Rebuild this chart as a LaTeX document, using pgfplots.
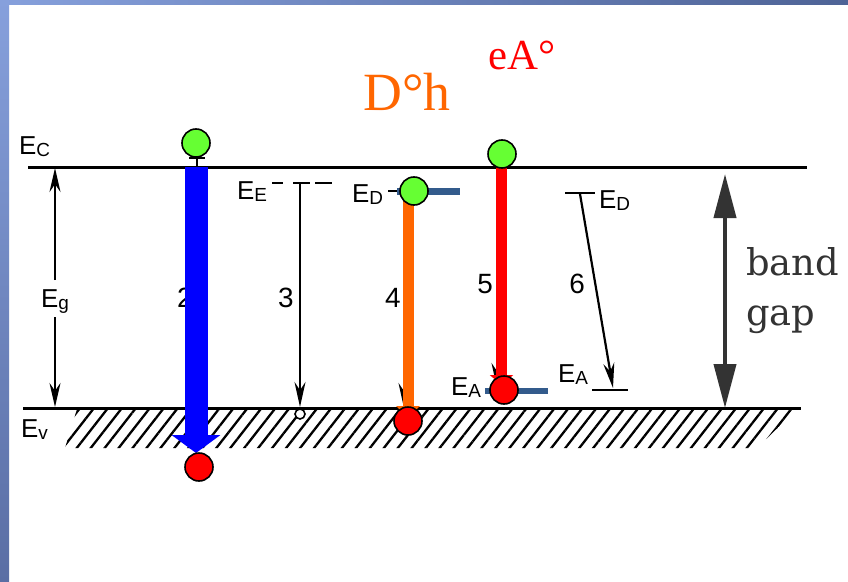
\documentclass[border=0pt]{standalone}
\usepackage{pgfplots}
\pgfplotsset{compat=1.18}
\usepackage{fontspec}
\setmainfont{Liberation Sans}
\newfontfamily\timesf{Liberation Serif}
\newfontfamily\bookf{DejaVu Serif}
\usetikzlibrary{arrows.meta,patterns.meta}
\definecolor{cgreen}{HTML}{66FF33}
\definecolor{corange}{HTML}{FF6600}
\definecolor{cred}{HTML}{FF0000}
\definecolor{cblue}{HTML}{0000FF}
\definecolor{csteel}{HTML}{335B8C}
\definecolor{cgap}{HTML}{333333}
\definecolor{frA}{HTML}{86A0DC}
\definecolor{frB}{HTML}{4E6396}
\definecolor{frC}{HTML}{5A6EA4}
\newcommand{\lev}[2]{{\fontsize{26}{26}\selectfont E}{\fontsize{19}{19}\selectfont\raisebox{-2bp}{#2}}}
\newcommand{\num}[1]{{\fontsize{28}{28}\selectfont #1}}
\begin{document}
\begin{tikzpicture}
\begin{axis}[scale only axis, width=848bp, height=582bp,
  xmin=0, xmax=848, ymin=0, ymax=582, y dir=reverse,
  hide axis, clip=false]
% background and frame
\fill[white] (axis cs:0,0) rectangle (axis cs:848,582);
\fill[left color=frA, right color=frB] (axis cs:0,0) rectangle (axis cs:848,5);
\fill[top color=frA, bottom color=frC] (axis cs:0,0) rectangle (axis cs:9,582);
% hatching below E_V
\addplot[draw=none, pattern={Lines[angle=52,distance=11bp,line width=2.3bp]}, pattern color=black]
  coordinates {(65,448) (757,448) (797,409) (77,409)} -- cycle;
% band edges
\addplot[black, line width=3bp] coordinates {(28,167) (807,167)};
\addplot[black, line width=3bp] coordinates {(23,408) (801,408)};
% E_g arrows
\addplot[black, line width=2.2bp, -{Stealth[length=24bp,width=11bp]}] coordinates {(55,280) (55,168)};
\addplot[black, line width=2.2bp, -{Stealth[length=24bp,width=11bp]}] coordinates {(55,317) (55,407)};
% labels
\node[anchor=base west, inner sep=0] at (axis cs:19,154) {\lev{E}{C}};
\node[anchor=base west, inner sep=0] at (axis cs:41,307) {\lev{E}{g}};
\node[anchor=base west, inner sep=0] at (axis cs:21,437) {\lev{E}{v}};
\node[anchor=base west, inner sep=0] at (axis cs:237,199) {\lev{E}{E}};
\node[anchor=base west, inner sep=0] at (axis cs:352,202) {\lev{E}{D}};
\node[anchor=base west, inner sep=0] at (axis cs:451,395) {\lev{E}{A}};
\node[anchor=base west, inner sep=0] at (axis cs:599,208) {\lev{E}{D}};
\node[anchor=base west, inner sep=0] at (axis cs:558,382) {\lev{E}{A}};
% numbers
\node[anchor=base, inner sep=0] at (axis cs:185,307) {\num{2}};
\node[anchor=base, inner sep=0] at (axis cs:286,307) {\num{3}};
\node[anchor=base, inner sep=0] at (axis cs:393,307) {\num{4}};
\node[anchor=base, inner sep=0] at (axis cs:485,293) {\num{5}};
\node[anchor=base, inner sep=0] at (axis cs:577,293) {\num{6}};
% transition 3 (E_E level, dashed)
\addplot[black, line width=2.2bp] coordinates {(272,183) (283,183)};
\addplot[black, line width=2.2bp] coordinates {(293,183) (310,183)};
\addplot[black, line width=2.2bp] coordinates {(315,183) (332,183)};
\addplot[black, line width=2.2bp, -{Stealth[length=25bp,width=11bp]}] coordinates {(300,183) (300,407)};
\addplot[only marks, mark=*, mark size=5bp, mark options={fill=white, draw=black, line width=1.6bp}] coordinates {(300,414)};
% transition 4 thin arrow & dash
\addplot[black, line width=2.2bp] coordinates {(388,191) (397,191)};
\addplot[black, line width=2.2bp, -{Stealth[length=25bp,width=11bp]}] coordinates {(404,205) (404,408)};
% transition 5 thin arrow
\addplot[black, line width=2.2bp, -{Stealth[length=25bp,width=11bp]}] coordinates {(497,170) (497,388)};
% transition 6
\addplot[black, line width=2.4bp] coordinates {(565,193) (595,193)};
\addplot[black, line width=2.4bp] coordinates {(592,390) (628,390)};
\addplot[black, line width=2.2bp, -{Stealth[length=25bp,width=11bp]}] coordinates {(580,194) (613,388)};
% small mark under green circle of 2
\addplot[black, line width=2.2bp] coordinates {(189,158) (205,158)};
\addplot[black, line width=2.2bp] coordinates {(197,158) (197,167)};
% band gap arrow
\addplot[cgap, line width=4bp, {Triangle[length=44bp,width=22bp]}-{Triangle[length=44bp,width=22bp]}] coordinates {(725,174) (725,408)};
\node[anchor=base west, inner sep=0] at (axis cs:746,275) {\bookf\fontsize{37}{37}\selectfont\color{cgap}band};
\node[anchor=base west, inner sep=0] at (axis cs:746,325) {\bookf\fontsize{37}{37}\selectfont\color{cgap}gap};
% coloured transitions
\addplot[cblue, line width=23bp, -{Triangle[length=18bp,width=48bp]}] coordinates {(196,167) (196,453)};
\addplot[corange, line width=11bp, -{Triangle[length=12bp,width=23bp]}] coordinates {(408,200) (408,418)};
\addplot[cred, line width=11bp, -{Triangle[length=10bp,width=23bp]}] coordinates {(501.5,167) (501.5,385)};
% impurity levels
\addplot[csteel, line width=7bp] coordinates {(397,191) (460,191)};
\addplot[csteel, line width=6bp] coordinates {(485,391) (548,391)};
% carriers
\addplot[only marks, mark=*, mark size=14bp, mark options={fill=cgreen, draw=black, line width=1.6bp}]
  coordinates {(196,143) (414,191) (502,154)};
\addplot[only marks, mark=*, mark size=14bp, mark options={fill=cred, draw=black, line width=1.6bp}]
  coordinates {(199,467) (408,421) (504,390)};
% titles
\node[anchor=base west, inner sep=0] at (axis cs:363,110) {\timesf\fontsize{54}{54}\selectfont\color{corange}D°h};
\node[anchor=base west, inner sep=0] at (axis cs:488,70) {\timesf\fontsize{43}{43}\selectfont\color{cred}eA°};
\end{axis}
\end{tikzpicture}
\end{document}
